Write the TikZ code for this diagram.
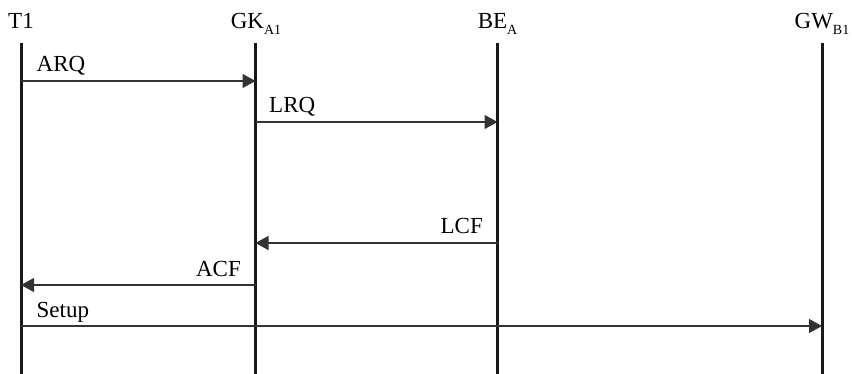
\documentclass[tikz,border=0pt]{standalone}
\usepackage{fontspec}
\setmainfont{Liberation Serif}
\usetikzlibrary{arrows.meta,positioning}

\newcommand{\lowsub}[1]{\raisebox{-6pt}{\fontsize{14}{14}\selectfont #1}}

\begin{document}
\begin{tikzpicture}[
x=1pt, y=-1pt,
headnode/.style={anchor=base, inner sep=0pt, text=black, font=\fontsize{23}{27}\selectfont},
lifeline/.style={line width=3pt, black!90},
msg/.style={line width=1.4pt, black!80, -{Triangle[length=13pt,width=14pt]}},
msglabel/.style={inner sep=0pt, text=black, font=\fontsize{23}{27}\selectfont},
]
\useasboundingbox (0,0) rectangle (852,374);

%Heads
\node[headnode]  (T1)  at (21,29)    {T1};
\node[headnode]  (GK)  at (256,29)   {GK\lowsub{A1}};
\node[headnode]  (BE)  at (497.5,29) {BE\lowsub{A}};
\node[headnode]  (GW)  at (822,29)   {GW\lowsub{B1}};

%Lifelines
\coordinate (T1top) at (21,43);    \coordinate (T1bot) at (21,374);
\coordinate (GKtop) at (255.5,43); \coordinate (GKbot) at (255.5,374);
\coordinate (BEtop) at (497.5,43); \coordinate (BEbot) at (497.5,374);
\coordinate (GWtop) at (822,43);   \coordinate (GWbot) at (822,374);

\draw[lifeline] (T1top) -- (T1bot);
\draw[lifeline] (GKtop) -- (GKbot);
\draw[lifeline] (BEtop) -- (BEbot);
\draw[lifeline] (GWtop) -- (GWbot);

%Message ends
\coordinate (T1arq)   at (T1top |- 0,81);
\coordinate (GKarq)   at (GKtop |- 0,81);
\coordinate (GKlrq)   at (GKtop |- 0,122);
\coordinate (BElrq)   at (BEtop |- 0,122);
\coordinate (BElcf)   at (BEtop |- 0,243);
\coordinate (GKlcf)   at (GKtop |- 0,243);
\coordinate (GKacf)   at (GKtop |- 0,285);
\coordinate (T1acf)   at (T1top |- 0,285);
\coordinate (T1setup) at (T1top |- 0,326);
\coordinate (GWsetup) at (GWtop |- 0,326);

%Messages
\draw[msg] (T1arq) -- node[msglabel, pos=0, anchor=base west, xshift=15pt, yshift=9pt] (ARQ) {ARQ} (GKarq);
\draw[msg] (GKlrq) -- node[msglabel, pos=0, anchor=base west, xshift=13pt, yshift=9pt] (LRQ) {LRQ} (BElrq);
\draw[msg] (BElcf) -- node[msglabel, pos=0, anchor=base east, xshift=-14pt, yshift=9pt] (LCF) {LCF} (GKlcf);
\draw[msg] (GKacf) -- node[msglabel, pos=0, anchor=base east, xshift=-14pt, yshift=8pt] (ACF) {ACF} (T1acf);
\draw[msg] (T1setup) -- node[msglabel, pos=0, anchor=base west, xshift=15pt, yshift=8pt] (Setup) {Setup} (GWsetup);

\end{tikzpicture}
\end{document}
